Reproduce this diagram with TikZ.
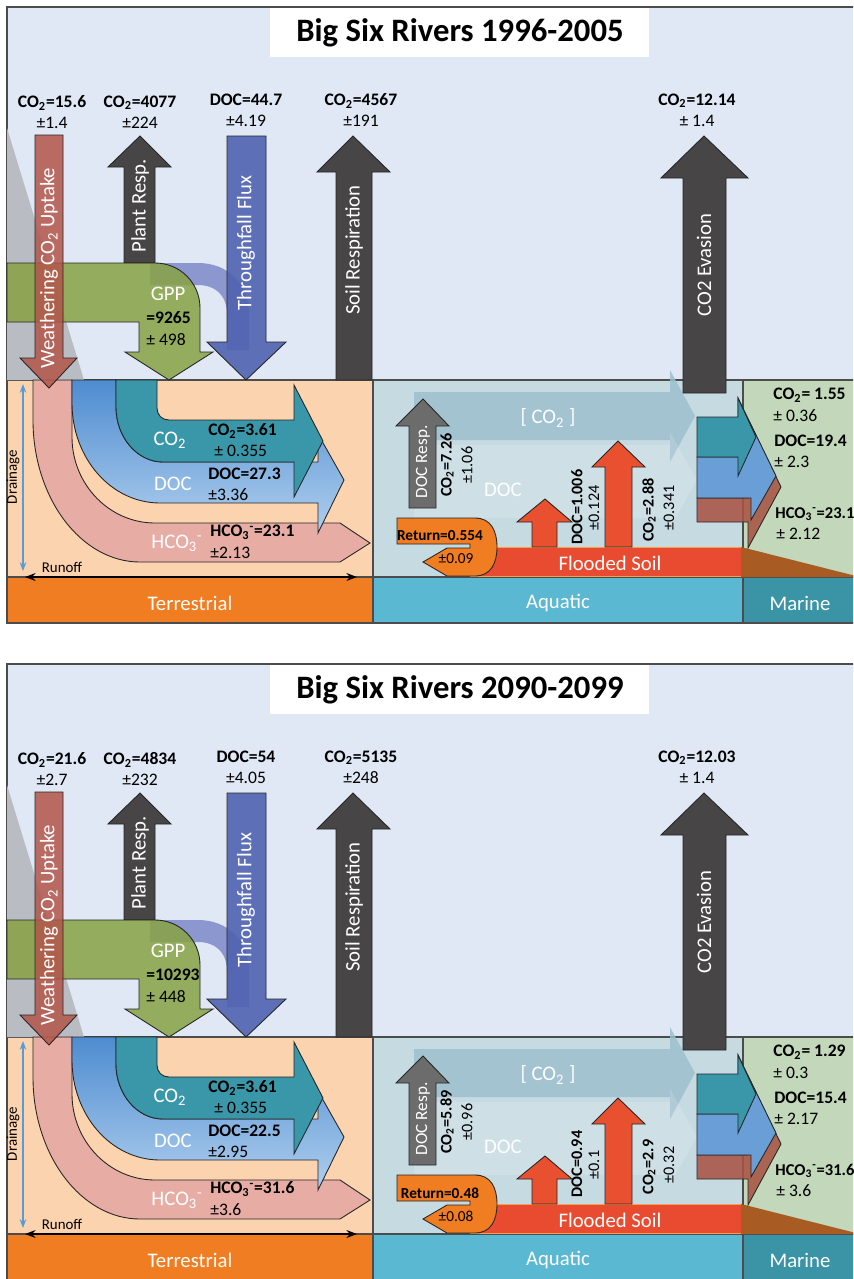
\documentclass[tikz,border=0pt]{standalone}
\usepackage{fontspec}
\setmainfont{Carlito}
\usetikzlibrary{arrows.meta}
\definecolor{skyfill}{HTML}{DFE8F4}
\definecolor{terrsoil}{HTML}{FCD3AF}
\definecolor{aquasoil}{HTML}{C6DAE1}
\definecolor{marsoil}{HTML}{C3D8BA}
\definecolor{terrband}{HTML}{F07D22}
\definecolor{aquaband}{HTML}{5BB8D2}
\definecolor{marband}{HTML}{3A94A6}
\definecolor{greywedge}{HTML}{B9BCC2}
\definecolor{respgrey}{HTML}{474546}
\definecolor{docgrey}{HTML}{6C6C6C}
\definecolor{weathred}{HTML}{B3554A}
\definecolor{gppgreen}{HTML}{88A243}
\definecolor{thrublue}{HTML}{4F62B0}
\definecolor{lavender}{HTML}{7F89C9}
\definecolor{hcopink}{HTML}{E6AAA5}
\definecolor{doctop}{HTML}{4E8CD0}
\definecolor{docbot}{HTML}{B0CFEE}
\definecolor{co2teal}{HTML}{3A97A9}
\definecolor{faintco2}{HTML}{9DBFCF}
\definecolor{floodred}{HTML}{E84B30}
\definecolor{floodedge}{HTML}{F5A050}
\definecolor{retorange}{HTML}{F07D22}
\definecolor{upred}{HTML}{E8502F}
\definecolor{marblue}{HTML}{6A9ED6}
\definecolor{marbrown}{HTML}{A85444}
\definecolor{shelf}{HTML}{A95B24}
\definecolor{drainblue}{HTML}{5B9BD5}

% one panel of the budget, everything but the numbers
\newcommand{\panelshapes}[1]{%
  % ground, sky and bands
  \fill[skyfill] (7,7) rectangle (860,380);
  \fill[terrsoil] (7,380) rectangle (373,577);
  \fill[aquasoil] (373,380) rectangle (743,577);
  \fill[marsoil] (743,380) rectangle (860,577);
  \fill[terrband] (7,577) rectangle (373,623);
  \fill[aquaband] (373,577) rectangle (743,623);
  \fill[marband] (743,577) rectangle (860,623);
  \draw[panelline] (7,380) -- (860,380);
  \draw[panelline] (7,577) -- (860,577);
  \draw[panelline] (373,380) -- (373,623);
  \draw[panelline] (743,380) -- (743,623);
  \draw[panelline] (860,7) -- (7,7) -- (7,623) -- (860,623);
  % title
  \fill[white] (270,8) rectangle (649,57);
  \node[titletext] (title) at (460,33) {#1};
  % atmosphere fluxes
  \fill[greywedge] (7,128) -- (84,380) -- (7,380) -- cycle;
  \filldraw[blk, fill=respgrey] (124,263) -- (124,167) -- (108,167) -- (140,136) -- (171,167) -- (155,167) -- (155,263) -- cycle;
  \filldraw[blk, fill=respgrey] (336,380) -- (336,172) -- (317,172) -- (353,136) -- (390,172) -- (372,172) -- (372,380) -- cycle;
  \draw[lavender, line width=0.44cm, opacity=0.85] (150,274) -- (198,274) .. controls (222,274) and (238,290) .. (238,314) -- (238,350);
  \filldraw[blk, fill=gppgreen, fill opacity=0.85] (7,263) -- (155,263) .. controls (180,263) and (200,283) .. (200,308) -- (200,352) -- (213,352) -- (169,380) -- (125,352) -- (139,352) -- (139,322) -- (7,322) -- cycle;
  \filldraw[blk, fill=thrublue, fill opacity=0.9] (227,136) -- (266,136) -- (266,342) -- (286,342) -- (246,380) -- (207,342) -- (227,342) -- cycle;
  % terrestrial export
  \filldraw[blk, fill=hcopink, fill opacity=0.92] (33,380) -- (33,420) .. controls (33,498) and (81,562) .. (140,562) -- (340,562) -- (370,543) -- (340,523) -- (155,523) .. controls (109,523) and (72,484) .. (72,437) -- (72,380) -- cycle;
  \shadedraw[blk, top color=doctop, bottom color=docbot] (72,380) -- (72,403) .. controls (72,458) and (111,503) .. (160,503) -- (318,503) -- (318,533) -- (344,480) -- (318,434) -- (318,462) -- (163,462) .. controls (137,462) and (116,437) .. (116,407) -- (116,380) -- cycle;
  \filldraw[blk, fill=co2teal] (116,380) -- (116,407) .. controls (116,437) and (137,462) .. (163,462) -- (294,462) -- (294,497) -- (323,441) -- (294,385) -- (294,420) -- (169,420) .. controls (162,420) and (157,415) .. (157,408) -- (157,380) -- cycle;
  \filldraw[blk, fill=weathred, fill opacity=0.85] (35,135) -- (63,135) -- (63,358) -- (77,358) -- (49,388) -- (20,358) -- (35,358) -- cycle;
  \draw[{Stealth[length=5pt]}-{Stealth[length=5pt]}, drainblue, line width=1.2pt] (23,384) -- (23,571);
  \draw[{Stealth[length=6pt]}-{Stealth[length=6pt]}, line width=1.5pt] (25,577) -- (357,577);
  % aquatic
  \fill[faintco2, opacity=0.85] (414,392) -- (670,392) -- (670,370) -- (695,416) -- (670,462) -- (670,440) -- (414,440) -- cycle;
  \fill[white, opacity=0.15] (414,445) -- (670,445) -- (670,432) -- (697,480) -- (670,528) -- (670,518) -- (414,518) -- cycle;
  \filldraw[blk, fill=respgrey] (683,393) -- (683,178) -- (661,178) -- (704,136) -- (748,178) -- (726,178) -- (726,393) -- cycle;
  \filldraw[blk, fill=docgrey] (409,508) -- (409,426) -- (396,426) -- (423,399) -- (449,426) -- (436,426) -- (436,508) -- cycle;
  \filldraw[fill=floodred, draw=floodedge, line width=0.5pt] (470,547) rectangle (741,576);
  \filldraw[blk, fill=upred] (532,547) -- (532,522) -- (517,522) -- (545,499) -- (572,522) -- (557,522) -- (557,547) -- cycle;
  \filldraw[blk, fill=upred] (605,547) -- (605,467) -- (592,467) -- (618,441) -- (645,467) -- (632,467) -- (632,547) -- cycle;
  \filldraw[blk, fill=retorange] (397,518) -- (475,518) .. controls (491,518) and (497,531) .. (497,547) .. controls (497,563) and (491,576) .. (475,576) -- (447,576) -- (423,562) -- (447,548) -- (470,548) -- (470,544) -- (397,544) -- cycle;
  % marine export
  \fill[shelf] (741,547) -- (860,577) -- (741,577) -- cycle;
  \filldraw[blk, fill=marbrown, fill opacity=0.88] (697,498) -- (748,498) -- (748,419) -- (781,487) -- (748,548) -- (748,522) -- (697,522) -- cycle;
  \filldraw[blk, fill=marblue] (697,457) -- (738,457) -- (738,398) -- (776,476) -- (751,520) -- (751,498) -- (697,498) -- cycle;
  \filldraw[blk, fill=co2teal] (697,417) -- (738,417) -- (738,398) -- (756,437) -- (738,476) -- (738,457) -- (697,457) -- cycle;
  % fixed labels
  \node[wlbl, rotate=90] (weath) at (49,268) {Weathering CO\textsubscript{2} Uptake};
  \node[wlbl, rotate=90] (plant) at (140,206) {Plant Resp.};
  \node[wlbl, rotate=90] (thru) at (246,243) {Throughfall Flux};
  \node[wlbl, rotate=90] (soil) at (354,250) {Soil Respiration};
  \node[wlbl, rotate=90] (evas) at (704,265) {CO2 Evasion};
  \node[wlbl] (gpp) at (168,294) {GPP};
  \node[wlbl] (tco2) at (170,440) {CO\textsubscript{2}};
  \node[wlbl] (tdoc) at (173,484) {DOC};
  \node[wlbl] (thco) at (177,543) {HCO\textsubscript{3}\textsuperscript{-}};
  \node[wlbl] (aco2) at (548,418) {[ CO\textsubscript{2} ]};
  \node[wlbl] (adoc) at (503,490) {DOC};
  \node[wlbl, rotate=90, font=\fontsize{9.8}{12}\selectfont] (docresp) at (423,462) {DOC Resp.};
  \node[wlbl] (flood) at (610,563) {Flooded Soil};
  \node[wlbl] (terr) at (190,603) {Terrestrial};
  \node[wlbl] (aqua) at (558,603) {Aquatic};
  \node[wlbl] (mar) at (800,603) {Marine};
  \node[smalltext, rotate=90] (drain) at (13,477) {Drainage};
  \node[smalltext] (runoff) at (62,567) {Runoff};
}

\begin{document}
\begin{tikzpicture}[
  x=0.02cm, y=-0.02cm,
  panelline/.style={draw=black!70, line width=0.6pt},
  blk/.style={draw=black!85, line width=0.5pt},
  titletext/.style={font=\fontsize{18.6}{22}\selectfont\bfseries, inner sep=0pt},
  wlbl/.style={text=white, font=\fontsize{11.8}{14}\selectfont, inner sep=0pt},
  smalltext/.style={font=\fontsize{8.5}{10}\selectfont, inner sep=0pt},
  val/.style={font=\fontsize{10}{12}\selectfont, align=center, inner sep=0pt},
  lval/.style={font=\fontsize{10}{12}\selectfont, anchor=west, inner sep=0pt},
  edgeval/.style={lval, font=\fontsize{9.4}{11}\selectfont},
  rval/.style={font=\fontsize{9.2}{11}\selectfont, rotate=90, inner sep=0pt},
  retval/.style={font=\fontsize{8.7}{10}\selectfont, inner sep=0pt}
]
  \useasboundingbox (0,0) rectangle (853,1279);
  \clip (0,0) rectangle (853,1279);
  \fill[white] (0,0) rectangle (853,1279);

  % 1996-2005
  \begin{scope}[name prefix=a-]
    \panelshapes{Big Six Rivers 1996-2005}
    \node[val] (weath-v) at (52,112) {\textbf{CO\textsubscript{2}=15.6}\\±1.4};
    \node[val] (plant-v) at (140,112) {\textbf{CO\textsubscript{2}=4077}\\±224};
    \node[val] (thru-v) at (246,110) {\textbf{DOC=44.7}\\±4.19};
    \node[val] (soil-v) at (361,110) {\textbf{CO\textsubscript{2}=4567}\\±191};
    \node[val] (evas-v) at (697,110) {\textbf{CO\textsubscript{2}=12.14}\\± 1.4};
    \node[lval] (gpp-v) at (146,318) {\textbf{=9265}};
    \node[lval] (gpp-e) at (146,340) {± 498};
    \node[lval] (tco2-v) at (208,431) {\textbf{CO\textsubscript{2}=3.61}};
    \node[lval] (tco2-e) at (214,451) {± 0.355};
    \node[lval] (tdoc-v) at (208,474) {\textbf{DOC=27.3}};
    \node[lval] (tdoc-e) at (208,495) {±3.36};
    \node[lval] (thco-v) at (210,532) {\textbf{HCO\textsubscript{3}\textsuperscript{-}=23.1}};
    \node[lval] (thco-e) at (210,553) {±2.13};
    \node[rval] (resp-v) at (447,465) {\textbf{CO\textsubscript{2}=7.26}};
    \node[rval] (resp-e) at (467,465) {±1.06};
    \node[retval] (ret-v) at (440,536) {\textbf{Return=0.554}};
    \node[retval] (ret-e) at (456,559) {±0.09};
    \node[rval] (fdoc-v) at (577,507) {\textbf{DOC=1.006}};
    \node[rval] (fdoc-e) at (594,508) {±0.124};
    \node[rval] (fco2-v) at (649,510) {\textbf{CO\textsubscript{2}=2.88}};
    \node[rval] (fco2-e) at (669,508) {±0.341};
    \node[lval] (mco2-v) at (773,395) {\textbf{CO\textsubscript{2}= 1.55}};
    \node[lval] (mco2-e) at (773,416) {± 0.36};
    \node[lval] (mdoc-v) at (774,441) {\textbf{DOC=19.4}};
    \node[lval] (mdoc-e) at (774,462) {± 2.3};
    \node[edgeval] (mhco-v) at (775,514) {\textbf{HCO\textsubscript{3}\textsuperscript{-}=23.1}};
    \node[lval] (mhco-e) at (776,534) {± 2.12};
  \end{scope}

  % 2090-2099
  \begin{scope}[shift={(0,657)}, name prefix=b-]
    \panelshapes{Big Six Rivers 2090-2099}
    \node[val] (weath-v) at (52,112) {\textbf{CO\textsubscript{2}=21.6}\\±2.7};
    \node[val] (plant-v) at (140,112) {\textbf{CO\textsubscript{2}=4834}\\±232};
    \node[val] (thru-v) at (246,110) {\textbf{DOC=54}\\±4.05};
    \node[val] (soil-v) at (361,110) {\textbf{CO\textsubscript{2}=5135}\\±248};
    \node[val] (evas-v) at (697,110) {\textbf{CO\textsubscript{2}=12.03}\\± 1.4};
    \node[lval] (gpp-v) at (146,318) {\textbf{=10293}};
    \node[lval] (gpp-e) at (146,340) {± 448};
    \node[lval] (tco2-v) at (208,431) {\textbf{CO\textsubscript{2}=3.61}};
    \node[lval] (tco2-e) at (214,451) {± 0.355};
    \node[lval] (tdoc-v) at (208,474) {\textbf{DOC=22.5}};
    \node[lval] (tdoc-e) at (208,495) {±2.95};
    \node[lval] (thco-v) at (210,532) {\textbf{HCO\textsubscript{3}\textsuperscript{-}=31.6}};
    \node[lval] (thco-e) at (210,553) {±3.6};
    \node[rval] (resp-v) at (447,465) {\textbf{CO\textsubscript{2}=5.89}};
    \node[rval] (resp-e) at (467,465) {±0.96};
    \node[retval] (ret-v) at (440,536) {\textbf{Return=0.48}};
    \node[retval] (ret-e) at (456,559) {±0.08};
    \node[rval] (fdoc-v) at (577,507) {\textbf{DOC=0.94}};
    \node[rval] (fdoc-e) at (594,508) {±0.1};
    \node[rval] (fco2-v) at (649,510) {\textbf{CO\textsubscript{2}=2.9}};
    \node[rval] (fco2-e) at (669,508) {±0.32};
    \node[lval] (mco2-v) at (773,395) {\textbf{CO\textsubscript{2}= 1.29}};
    \node[lval] (mco2-e) at (773,416) {± 0.3};
    \node[lval] (mdoc-v) at (774,441) {\textbf{DOC=15.4}};
    \node[lval] (mdoc-e) at (774,462) {± 2.17};
    \node[edgeval] (mhco-v) at (775,514) {\textbf{HCO\textsubscript{3}\textsuperscript{-}=31.6}};
    \node[lval] (mhco-e) at (776,534) {± 3.6};
  \end{scope}
\end{tikzpicture}
\end{document}
